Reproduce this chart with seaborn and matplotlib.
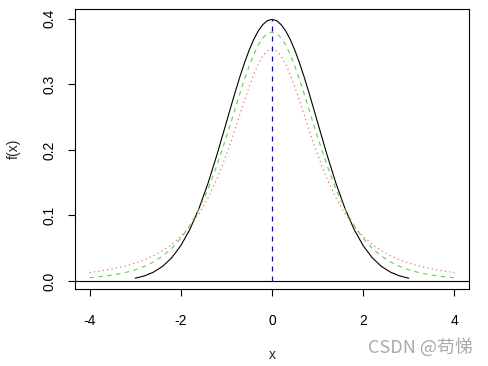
import numpy as np
import pandas as pd
import matplotlib
matplotlib.use("Agg")
import matplotlib.pyplot as plt
import seaborn as sns

# density curves
x_norm = [-3.0, -2.8, -2.6, -2.4, -2.2, -2.0, -1.8, -1.6, -1.4, -1.2,
          -1.0, -0.9, -0.8, -0.7, -0.6, -0.5, -0.4, -0.3, -0.2, -0.1,
          0.0, 0.1, 0.2, 0.3, 0.4, 0.5, 0.6, 0.7, 0.8, 0.9, 1.0,
          1.2, 1.4, 1.6, 1.8, 2.0, 2.2, 2.4, 2.6, 2.8, 3.0]
y_norm = [0.0044, 0.0079, 0.0136, 0.0224, 0.0355, 0.0540, 0.0790, 0.1109, 0.1497, 0.1942,
          0.2420, 0.2661, 0.2897, 0.3123, 0.3332, 0.3521, 0.3683, 0.3814, 0.3910, 0.3970,
          0.3989, 0.3970, 0.3910, 0.3814, 0.3683, 0.3521, 0.3332, 0.3123, 0.2897, 0.2661, 0.2420,
          0.1942, 0.1497, 0.1109, 0.0790, 0.0540, 0.0355, 0.0224, 0.0136, 0.0079, 0.0044]

x_t = [-4.0, -3.8, -3.6, -3.4, -3.2, -3.0, -2.8, -2.6, -2.4, -2.2,
       -2.0, -1.8, -1.6, -1.4, -1.2, -1.0, -0.9, -0.8, -0.7, -0.6,
       -0.5, -0.4, -0.3, -0.2, -0.1, 0.0, 0.1, 0.2, 0.3, 0.4,
       0.5, 0.6, 0.7, 0.8, 0.9, 1.0, 1.2, 1.4, 1.6, 1.8,
       2.0, 2.2, 2.4, 2.6, 2.8, 3.0, 3.2, 3.4, 3.6, 3.8, 4.0]
y_t5 = [0.0051, 0.0065, 0.0082, 0.0105, 0.0134, 0.0173, 0.0224, 0.0292, 0.0381, 0.0498,
        0.0651, 0.0848, 0.1098, 0.1407, 0.1777, 0.2197, 0.2419, 0.2645, 0.2868, 0.3081,
        0.3279, 0.3454, 0.3598, 0.3707, 0.3773, 0.3796, 0.3773, 0.3707, 0.3598, 0.3454,
        0.3279, 0.3081, 0.2868, 0.2645, 0.2419, 0.2197, 0.1777, 0.1407, 0.1098, 0.0848,
        0.0651, 0.0498, 0.0381, 0.0292, 0.0224, 0.0173, 0.0134, 0.0105, 0.0082, 0.0065, 0.0051]
y_t2 = [0.0131, 0.0150, 0.0173, 0.0200, 0.0234, 0.0274, 0.0324, 0.0386, 0.0463, 0.0559,
        0.0680, 0.0834, 0.1027, 0.1269, 0.1567, 0.1925, 0.2123, 0.2331, 0.2545, 0.2758,
        0.2963, 0.3150, 0.3310, 0.3432, 0.3509, 0.3536, 0.3509, 0.3432, 0.3310, 0.3150,
        0.2963, 0.2758, 0.2545, 0.2331, 0.2123, 0.1925, 0.1567, 0.1269, 0.1027, 0.0834,
        0.0680, 0.0559, 0.0463, 0.0386, 0.0324, 0.0274, 0.0234, 0.0200, 0.0173, 0.0150, 0.0131]

x_ticks = [-4, -2, 0, 2, 4]
y_ticks = [0.0, 0.1, 0.2, 0.3, 0.4]

sns.set_style("white")
plt.rcParams['font.family'] = ['Liberation Sans', 'DejaVu Sans']

fig = plt.figure(figsize=(4.89, 3.66), dpi=100)
ax = fig.add_axes([0.1534, 0.2117, 0.8056, 0.7637])

df_n = pd.DataFrame({"x": x_norm, "y": y_norm})
df_5 = pd.DataFrame({"x": x_t, "y": y_t5})
df_2 = pd.DataFrame({"x": x_t, "y": y_t2})

# normal (solid), t5 (dashed), t2 (dotted)
sns.lineplot(data=df_n, x="x", y="y", ax=ax, color="black", lw=0.8)
sns.lineplot(data=df_5, x="x", y="y", ax=ax, color="#61D04F", lw=0.8,
             linestyle=(0, (4, 4)))
sns.lineplot(data=df_2, x="x", y="y", ax=ax, color="#DF536B", lw=0.8,
             linestyle=(0, (1, 3)))

ax.axhline(0, color="black", lw=0.8)
ax.plot([0, 0], [0, max(y_norm)], color="blue", lw=0.9, linestyle=(0, (4, 4)))

ax.set_xlim(-4.32, 4.32)
ax.set_ylim(-0.0113, 0.4147)
ax.set_xticks(x_ticks)
ax.set_xticklabels([str(v) for v in x_ticks])
ax.set_yticks(y_ticks)
ax.set_yticklabels([f"{v:.1f}" for v in y_ticks], rotation=90, va="center")
ax.tick_params(axis="both", direction="out", length=5, width=0.8,
               colors="black", labelsize=10)
ax.tick_params(axis="x", pad=13)
ax.tick_params(axis="y", pad=8)
ax.tick_params(left=True, bottom=True)
for s in ax.spines.values():
    s.set_color("black")
    s.set_linewidth(0.8)

ax.set_xlabel("x", fontsize=10, labelpad=15)
ax.set_ylabel("f(x)", fontsize=10, labelpad=16)

fig.text(0.968, 0.05, "CSDN @苟悌", ha="right", va="center", color="#aaaaaa",
         fontsize=13, family=['Noto Sans CJK SC', 'DejaVu Sans'])

fig.savefig("out.png", dpi=100)
